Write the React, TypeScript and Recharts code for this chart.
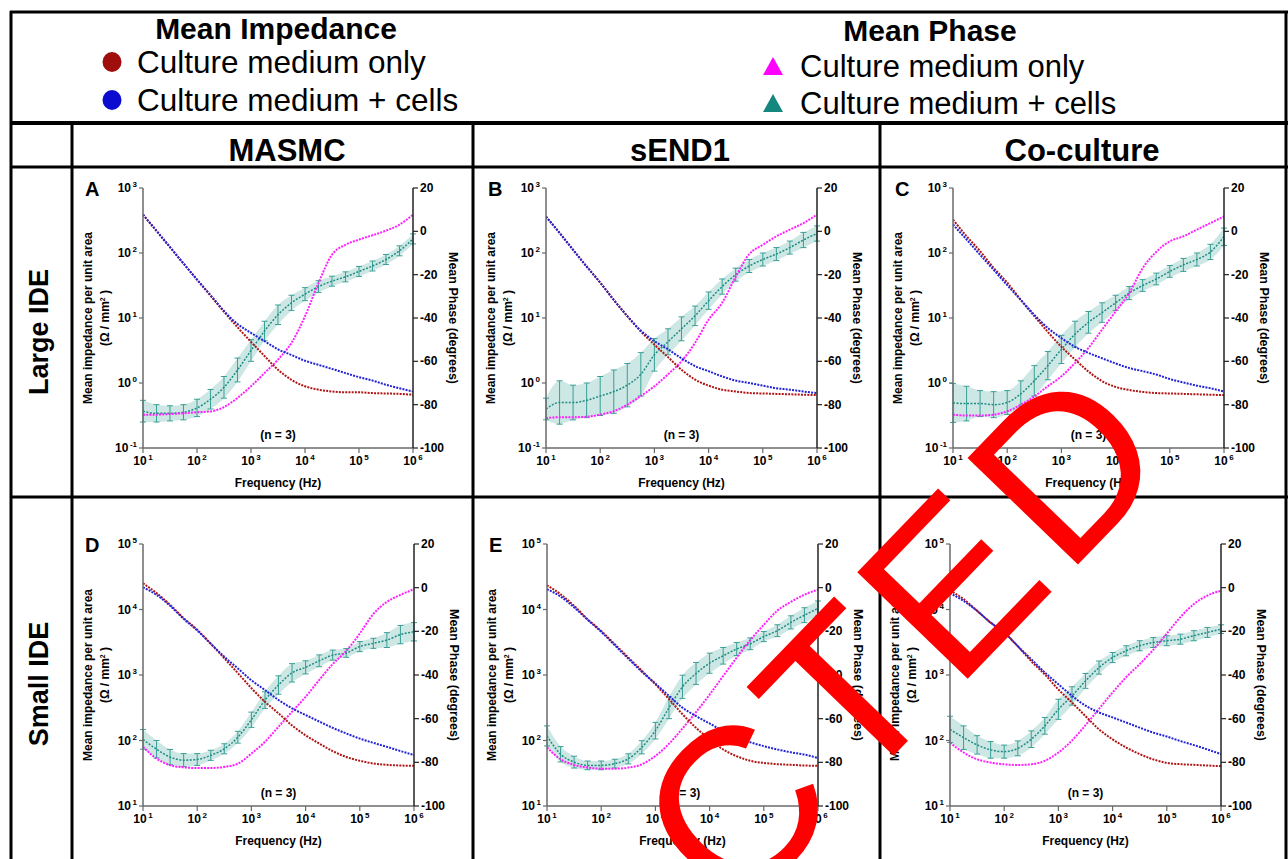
import React from 'react';
import { ComposedChart, Line, Area, XAxis, YAxis, ErrorBar } from 'recharts';

const FONT = '"Liberation Sans", Arial, Helvetica, sans-serif';

// colours
const RED = '#b01515';
const BLUE = '#2323d6';
const MAGENTA = '#ff20ff';
const TEAL = '#1f8c84';

// frequency grid (Hz), 4 points per decade
const FREQ = [10, 17.8, 31.6, 56.2, 100, 178, 316, 562, 1000, 1780, 3160, 5620, 10000, 17800, 31600, 56200, 100000, 178000, 316000, 562000, 1000000];
const FREQ_TICKS = [10, 100, 1000, 10000, 100000, 1000000];
const PHASE_TICKS = [-100, -80, -60, -40, -20, 0, 20];
const LARGE_Z_TICKS = [0.1, 1, 10, 100, 1000];
const SMALL_Z_TICKS = [10, 100, 1000, 10000, 100000];

// A - MASMC, large IDE
const aRed = [389, 219, 123, 69, 39, 22, 12.5, 7.2, 4.3, 2.6, 1.6, 1.12, 0.89, 0.79, 0.74, 0.72, 0.72, 0.7, 0.69, 0.68, 0.66];
const aBlue = [389, 219, 123, 69, 39, 22.5, 12.8, 8.1, 5.9, 4.4, 3.3, 2.7, 2.2, 1.9, 1.65, 1.42, 1.23, 1.09, 0.94, 0.83, 0.74];
const aMag = [-84.6, -84.6, -84.3, -84, -83.5, -83.1, -81.1, -76.9, -71.5, -65.4, -59.2, -51.5, -39.2, -23.8, -10.8, -6.2, -3.8, -1.8, 0.3, 3.1, 7.7];
const aTeal = [-83, -84, -84, -83.5, -81.5, -77.5, -72, -64, -55, -46, -38.5, -33, -29, -25.5, -23, -21, -18.5, -16, -13, -9, -3.5];
const aTealErr = [5, 4, 3.5, 3.5, 4, 4.5, 5, 5.5, 5, 4.5, 4.5, 3.5, 3, 2.7, 2.3, 2.3, 2.3, 2.3, 2.3, 2.3, 2.3];

// B - sEND1, large IDE
const bRed = [363, 204, 112, 62, 35, 19, 10.7, 6.2, 3.9, 2.5, 1.6, 1.13, 0.91, 0.79, 0.74, 0.7, 0.69, 0.68, 0.67, 0.66, 0.65];
const bBlue = [363, 204, 112, 62, 35, 19, 10.7, 6.4, 4.4, 3.3, 2.4, 1.82, 1.52, 1.26, 1.09, 1.0, 0.91, 0.83, 0.79, 0.74, 0.7];
const bMag = [-86.2, -85.8, -85.8, -85.6, -84.6, -83, -80, -76, -71.5, -66, -60, -51.5, -40.8, -33, -21, -10.5, -6.2, -2.3, 0.8, 3.8, 7.7];
const bTeal = [-82, -79, -79, -78, -76, -74, -71, -66, -57, -51, -45, -39, -32, -25.5, -20, -16, -13, -10.5, -7.5, -4, -1];
const bTealErr = [5, 10, 8, 8, 9, 10, 10, 10, 7.5, 6, 5.5, 4.5, 4, 3.5, 3, 3, 3, 3, 3, 3.5, 3.5];

// C - Co-culture, large IDE
const cRed = [326, 181, 107, 59, 35, 19, 10.7, 6.1, 3.6, 2.3, 1.5, 1.07, 0.87, 0.78, 0.73, 0.7, 0.69, 0.68, 0.67, 0.66, 0.65];
const cBlue = [274, 161, 94, 55, 32, 19, 11.2, 7.0, 4.9, 3.6, 2.9, 2.4, 2.0, 1.7, 1.52, 1.35, 1.15, 1.02, 0.91, 0.83, 0.74];
const cMag = [-84.6, -85, -85, -84.6, -83.1, -80, -76.2, -71.5, -66.9, -60.8, -53.8, -45.4, -37, -28.5, -17, -9.5, -4.6, -2.3, 0.8, 3.8, 6.9];
const cTeal = [-79.2, -79.5, -79.5, -80, -79, -75, -69, -62, -54.5, -47.5, -42, -37.5, -33, -28.5, -25, -22, -18.5, -15.5, -13, -9.5, -2.5];
const cTealErr = [9, 8, 6, 6, 5.5, 6, 7, 6.5, 6.5, 6, 5, 4.5, 3.5, 3, 2.7, 2.7, 2.7, 3, 3, 3.5, 4];

// D - MASMC, small IDE
const dRed = [25100, 17800, 11800, 7400, 4900, 3000, 1800, 1070, 630, 390, 260, 170, 120, 90, 69, 56, 49, 44.5, 42.5, 41.5, 41];
const dBlue = [21800, 16700, 11400, 7200, 4800, 3000, 1900, 1260, 830, 590, 415, 310, 245, 195, 156, 128, 107, 92, 80, 69, 60];
const dMag = [-72.9, -78.3, -81.3, -82.3, -82.6, -82.6, -82.1, -80.6, -76, -70.6, -63.7, -56.8, -50, -42.3, -35, -29, -21, -12, -6.5, -3.3, -0.7];
const dTeal = [-69.5, -74, -77.6, -79, -78.7, -76.8, -73.8, -68.5, -60.5, -51.5, -44.6, -39, -36.5, -33.5, -30.9, -29.9, -27, -25.5, -24, -21.5, -20.2];
const dTealErr = [4.5, 4, 3.5, 3, 2.7, 2.3, 2.3, 2.7, 3.5, 3.8, 4.2, 4.2, 3, 2.7, 2.3, 2, 2.3, 2.3, 3.4, 4.2, 4.2];

// E - sEND1, small IDE
const eRed = [23400, 17100, 11400, 7100, 4700, 2950, 1850, 1160, 720, 430, 252, 156, 104, 73, 57.5, 49, 45.5, 43.5, 42.5, 41.5, 41];
const eBlue = [20400, 15800, 10800, 6970, 4570, 2850, 1780, 1120, 740, 480, 317, 236, 182, 139, 114, 94, 82, 73, 66, 61, 54];
const eMag = [-73.2, -78.6, -81.2, -82.4, -82.9, -82.9, -82.4, -80.9, -77.1, -71.5, -64.5, -57, -49, -40.5, -32, -24, -17, -10.5, -6.5, -3.2, -0.9];
const eTeal = [-67.9, -76.3, -79.9, -81.4, -81.4, -80.6, -78.4, -73.1, -65.5, -55, -45.4, -39.3, -34.6, -31.2, -28.1, -25.7, -22.4, -19.7, -15.9, -12.6, -9.5];
const eTealErr = [4.6, 3.5, 2.7, 2, 2, 2, 2.3, 3, 3.8, 5, 5.3, 5, 4.6, 3.8, 3, 2.7, 2.3, 2.7, 3, 3.4, 3.4];

// F - Co-culture, small IDE
const fRed = [19400, 14400, 9550, 6300, 4470, 2750, 1620, 1020, 600, 380, 236, 148, 104, 78, 62, 51.5, 45.5, 43.5, 42.5, 41.5, 40.5];
const fBlue = [17800, 13500, 9550, 6300, 4470, 2750, 1740, 1090, 720, 480, 340, 268, 225, 188, 157, 132, 115, 98, 85, 73, 62];
const fMag = [-71, -75.5, -78.6, -80.1, -80.9, -81.2, -80.9, -79.3, -75.5, -70, -63, -55.5, -48, -41, -35, -28.5, -21, -13.5, -7.5, -3.6, -1.4];
const fTeal = [-64.9, -68.7, -72, -74.3, -75.1, -73.6, -69.4, -63.3, -55.7, -49.6, -42.7, -36.6, -32, -28.9, -26.6, -25.1, -24.3, -23.6, -22, -20.5, -19];
const fTealErr = [6, 5.4, 4.2, 3.8, 3, 3.4, 3.8, 3.8, 4.6, 4.2, 3.4, 3, 2.3, 2.3, 2.3, 2.3, 2.3, 2.3, 2.3, 2.3, 2];

const PANELS = [
  { id: 'A', x: 143, y: 188, w: 270, h: 260, zTicks: LARGE_Z_TICKS, red: aRed, blue: aBlue, mag: aMag, teal: aTeal, err: aTealErr },
  { id: 'B', x: 546, y: 188, w: 271, h: 260, zTicks: LARGE_Z_TICKS, red: bRed, blue: bBlue, mag: bMag, teal: bTeal, err: bTealErr },
  { id: 'C', x: 953, y: 188, w: 271, h: 260, zTicks: LARGE_Z_TICKS, red: cRed, blue: cBlue, mag: cMag, teal: cTeal, err: cTealErr },
  { id: 'D', x: 143, y: 544, w: 271, h: 262, zTicks: SMALL_Z_TICKS, red: dRed, blue: dBlue, mag: dMag, teal: dTeal, err: dTealErr },
  { id: 'E', x: 547, y: 544, w: 271, h: 262, zTicks: SMALL_Z_TICKS, red: eRed, blue: eBlue, mag: eMag, teal: eTeal, err: eTealErr },
  { id: 'F', x: 950, y: 544, w: 271, h: 262, zTicks: SMALL_Z_TICKS, red: fRed, blue: fBlue, mag: fMag, teal: fTeal, err: fTealErr },
];

const PowTick = (anchor: 'end' | 'middle', dx: number, dy: number) => (props: any) => {
  const { x, y, payload } = props;
  const e = Math.round(Math.log10(payload.value));
  return (
    <text x={x + dx} y={y + dy} textAnchor={anchor} fontFamily={FONT} fontWeight="bold" fontSize={12} fill="#000">
      <tspan>10</tspan>
      <tspan dx={1.5} dy={-5} fontSize={8}>{e}</tspan>
    </text>
  );
};

const PhaseTick = (props: any) => {
  const { x, y, payload } = props;
  return (
    <text x={x} y={y + 4} textAnchor="start" fontFamily={FONT} fontWeight="bold" fontSize={12} fill="#000">
      {payload.value}
    </text>
  );
};

const LeftTick = PowTick('end', 0, 4);
const BottomTick = PowTick('middle', 0, 10);

function Panel({ p }: { p: any }) {
  const data = FREQ.map((f, i) => ({
    f,
    red: p.red[i],
    blue: p.blue[i],
    mag: p.mag[i],
    teal: p.teal[i],
    tealErr: p.err[i],
    band: [p.teal[i] - p.err[i], p.teal[i] + p.err[i]],
  }));
  const zt = p.zTicks;
  return (
    <div style={{ position: 'absolute', left: p.x - 70, top: p.y - 30 }}>
      <ComposedChart width={p.w + 140} height={p.h + 60} data={data} margin={{ top: 30, right: 30, bottom: 0, left: 30 }}>
        <XAxis
          dataKey="f" type="number" scale="log" domain={[10, 1000000]} ticks={FREQ_TICKS} allowDataOverflow
          interval={0} height={30} tickSize={5} tick={BottomTick}
          axisLine={{ stroke: '#6a6a6a', strokeWidth: 1.5 }} tickLine={{ stroke: '#6a6a6a', strokeWidth: 1.2 }}
        />
        <YAxis
          yAxisId="left" type="number" scale="log" domain={[zt[0], zt[zt.length - 1]]} ticks={zt} allowDataOverflow
          interval={0} width={40} tickSize={4} tick={LeftTick}
          axisLine={{ stroke: '#6a6a6a', strokeWidth: 1.5 }} tickLine={{ stroke: '#6a6a6a', strokeWidth: 1.2 }}
        />
        <YAxis
          yAxisId="right" orientation="right" type="number" domain={[-100, 20]} ticks={PHASE_TICKS} allowDataOverflow
          interval={0} width={40} tickSize={5} tick={PhaseTick}
          axisLine={{ stroke: '#222', strokeWidth: 1.5 }} tickLine={{ stroke: '#222', strokeWidth: 1.2 }}
        />
        <Area yAxisId="right" dataKey="band" type="monotone" stroke="none" fill="#5fb3ab" fillOpacity={0.32} isAnimationActive={false} dot={false} activeDot={false} />
        <Line yAxisId="right" dataKey="teal" type="monotone" stroke={TEAL} strokeWidth={1.5} strokeDasharray="2 1.5" dot={false} activeDot={false} isAnimationActive={false}>
          <ErrorBar dataKey="tealErr" direction="y" width={3} strokeWidth={1} stroke="#3a9f96" />
        </Line>
        <Line yAxisId="right" dataKey="mag" type="monotone" stroke={MAGENTA} strokeWidth={2} strokeDasharray="2 1.2" dot={false} activeDot={false} isAnimationActive={false} />
        <Line yAxisId="left" dataKey="red" type="monotone" stroke={RED} strokeWidth={2} strokeDasharray="2 1.2" dot={false} activeDot={false} isAnimationActive={false} />
        <Line yAxisId="left" dataKey="blue" type="monotone" stroke={BLUE} strokeWidth={2} strokeDasharray="2 1.2" dot={false} activeDot={false} isAnimationActive={false} />
      </ComposedChart>
    </div>
  );
}

function PanelText({ p }: { p: any }) {
  const cy = p.y + p.h / 2;
  const cx = p.x + p.w / 2;
  return (
    <g fontFamily={FONT} fontWeight="bold" fill="#000">
      <text x={p.x - 58} y={p.y + 8} fontSize={20}>{p.id}</text>
      <text transform={`translate(${p.x - 51},${cy}) rotate(-90)`} textAnchor="middle" fontSize={12}>Mean impedance per unit area</text>
      <text transform={`translate(${p.x - 34},${cy}) rotate(-90)`} textAnchor="middle" fontSize={12}>
        (Ω / mm<tspan dy={-4} fontSize={7}>2</tspan><tspan dy={4}> )</tspan>
      </text>
      <text transform={`translate(${p.x + p.w + 36},${cy}) rotate(90)`} textAnchor="middle" fontSize={12.5}>Mean Phase (degrees)</text>
      <text x={cx} y={p.y + p.h - 9} textAnchor="middle" fontSize={12}>(n = 3)</text>
      <text x={cx} y={p.y + p.h + 39} textAnchor="middle" fontSize={12}>Frequency (Hz)</text>
    </g>
  );
}

export default function App() {
  return (
    <div style={{ position: 'absolute', left: 0, top: 0, width: 1288, height: 859, background: '#fff', overflow: 'hidden', fontFamily: FONT }}>
      {PANELS.map((p) => <Panel key={p.id} p={p} />)}
      <svg width={1288} height={859} style={{ position: 'absolute', left: 0, top: 0, pointerEvents: 'none' }} fontFamily={FONT}>
        {/* table grid */}
        <g stroke="#000">
          <line x1={10} y1={12} x2={1288} y2={12} strokeWidth={3} />
          <line x1={11} y1={11} x2={11} y2={859} strokeWidth={3} />
          <line x1={1286} y1={11} x2={1286} y2={859} strokeWidth={3} />
          <line x1={10} y1={123} x2={1288} y2={123} strokeWidth={4} />
          <line x1={10} y1={167} x2={1288} y2={167} strokeWidth={3} />
          <line x1={10} y1={497} x2={1288} y2={497} strokeWidth={3} />
          <line x1={72} y1={123} x2={72} y2={859} strokeWidth={3} />
          <line x1={473} y1={123} x2={473} y2={859} strokeWidth={3} />
          <line x1={880} y1={123} x2={880} y2={859} strokeWidth={3} />
        </g>

        {/* legend */}
        <text x={276} y={39} textAnchor="middle" fontSize={30} fontWeight="bold">Mean Impedance</text>
        <ellipse cx={112} cy={62} rx={9.5} ry={10} fill="#a00d0d" />
        <text x={137} y={73} fontSize={31.5}>Culture medium only</text>
        <ellipse cx={112} cy={100} rx={9.5} ry={10} fill="#0c0cd0" />
        <text x={137} y={111} fontSize={31.5}>Culture medium + cells</text>

        <text x={930} y={41} textAnchor="middle" fontSize={30} fontWeight="bold">Mean Phase</text>
        <polygon points="763,75 773,57 783,75" fill="#ff00ff" />
        <text x={800} y={77} fontSize={31}>Culture medium only</text>
        <polygon points="763,112 773,94 783,112" fill="#14877f" />
        <text x={800} y={114} fontSize={31}>Culture medium + cells</text>

        {/* column and row headers */}
        <g fontWeight="bold" textAnchor="middle">
          <text x={287} y={161} fontSize={31}>MASMC</text>
          <text x={680} y={161} fontSize={31}>sEND1</text>
          <text x={1082} y={161} fontSize={31}>Co-culture</text>
          <text transform="translate(48,332) rotate(-90)" fontSize={27}>Large IDE</text>
          <text transform="translate(48,684) rotate(-90)" fontSize={27}>Small IDE</text>
        </g>

        {PANELS.map((p) => <PanelText key={p.id} p={p} />)}

        {/* watermark */}
        <text transform="translate(955,692) rotate(-46)" x={-1123} y={0} fontSize={223} fill="#ff0000" letterSpacing={10}>RETRACTED</text>
      </svg>
    </div>
  );
}
